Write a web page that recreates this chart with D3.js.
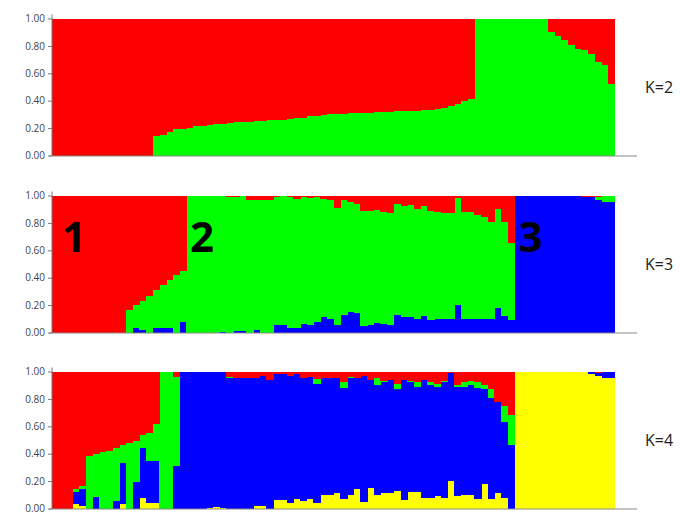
<!DOCTYPE html>
<html>
<head>
<meta charset="utf-8">
<script src="https://cdn.jsdelivr.net/npm/d3@7"></script>
<style>
  body { margin: 0; background: #fff; }
  svg text { font-family: "Open Sans", "Liberation Sans", sans-serif; }
</style>
</head>
<body>
<svg id="chart" width="682" height="514"></svg>
<script>
// membership coefficients per individual (84 individuals, same order in each panel)
const individuals = d3.range(84);
const yTicks = [0, 0.2, 0.4, 0.6, 0.8, 1];
const panelLabels = ["K=2", "K=3", "K=4"];
const groupLabels = ["1", "2", "3"];

// K=2
const k2Green = [0,0,0,0,0,0,0,0,0,0,0,0,0,0,0,
  0.14,0.15,0.17,0.19,0.195,0.20,0.215,0.218,0.22,0.23,0.23,0.235,0.243,0.245,0.248,0.255,0.255,0.258,0.262,0.262,
  0.265,0.272,0.277,0.285,0.29,0.292,0.30,0.303,0.305,0.307,0.308,0.31,0.313,0.315,0.317,0.32,0.322,0.325,0.326,0.328,
  0.33,0.333,0.338,0.345,0.36,0.376,0.395,0.41,
  1,1,1,1,1,1,1,0.995,0.995,0.995,0.995,
  0.90,0.87,0.84,0.81,0.78,0.77,0.74,0.68,0.66,0.52];
const k2Red = [1,1,1,1,1,1,1,1,1,1,1,1,1,1,1,
  0.86,0.85,0.83,0.81,0.805,0.80,0.785,0.782,0.78,0.77,0.77,0.765,0.757,0.755,0.752,0.745,0.745,0.742,0.738,0.738,
  0.735,0.728,0.723,0.715,0.71,0.708,0.70,0.697,0.695,0.693,0.692,0.69,0.687,0.685,0.683,0.68,0.678,0.675,0.674,0.672,
  0.67,0.667,0.662,0.655,0.64,0.624,0.605,0.59,
  0,0,0,0,0,0,0,0.005,0.005,0.005,0.005,
  0.10,0.13,0.16,0.19,0.22,0.23,0.26,0.32,0.34,0.48];

// K=3
const k3Blue = [0,0,0,0,0,0,0,0,0,0,0,
  0,0.03,0.017,0,0.036,0.036,0.036,0,0.078,
  0,0,0,0,0,0.005,0,0.012,0.012,0,0.02,0,0,0.053,0.053,0.036,0.036,0.065,0.053,0.078,0.115,
  0.10,0.053,0.126,0.15,0.14,0.046,0.053,0.07,0.065,0.053,0.126,0.114,0.11,0.10,0.12,0.09,0.095,0.10,0.10,0.20,
  0.095,0.10,0.10,0.10,0.10,0.18,0.12,0.09,
  1,1,1,1,1,1,1,1,0.995,1,0.99,0.99,0.97,0.95,0.955];
const k3Green = [0,0,0,0,0,0,0,0,0,0,0,
  0.163,0.17,0.213,0.27,0.274,0.309,0.344,0.42,0.372,
  1,1,0.995,0.995,0.995,0.99,0.988,0.976,0.983,0.97,0.944,0.964,0.97,0.937,0.942,0.954,0.94,0.925,0.927,0.912,0.861,
  0.87,0.857,0.838,0.80,0.795,0.844,0.837,0.825,0.815,0.817,0.814,0.806,0.82,0.80,0.805,0.80,0.785,0.77,0.77,0.783,
  0.785,0.78,0.76,0.74,0.71,0.72,0.69,0.56,
  0,0,0,0,0,0,0,0,0,0,0,0,0.02,0.045,0.045];
const k3Red = [1,1,1,1,1,1,1,1,1,1,1,
  0.837,0.80,0.77,0.73,0.69,0.655,0.62,0.58,0.55,
  0,0,0.005,0.005,0.005,0.005,0.012,0.012,0.005,0.03,0.036,0.036,0.03,0.01,0.005,0.01,0.024,0.01,0.02,0.01,0.024,
  0.03,0.09,0.036,0.05,0.065,0.11,0.11,0.105,0.12,0.13,0.06,0.08,0.07,0.10,0.075,0.11,0.12,0.13,0.13,0.017,
  0.12,0.12,0.14,0.16,0.19,0.10,0.19,0.35,
  0,0,0,0,0,0,0,0,0.005,0,0.01,0.01,0.01,0.005,0];

// K=4
const k4Yellow = [0,0,0,0.03,0.02,0,0,0,0,0,0.03,0,0,0.08,0.037,0.04,0,0,0,
  0,0,0,0,0.005,0.012,0.005,0,0,0,0,0.017,0.017,0,0.06,0.06,0.037,0.066,0.054,0.07,0.04,0.10,0.10,
  0.11,0.07,0.10,0.14,0.05,0.15,0.10,0.11,0.11,0.13,0.06,0.12,0.12,0.08,0.08,0.09,0.08,0.20,0.09,0.10,0.10,
  0.07,0.18,0.07,0.11,0.08,0,
  1,1,1,1,1,1,1,1,0.995,0.995,0.995,0.98,0.965,0.95,0.95];
const k4Blue = [0,0,0,0.09,0.12,0,0.085,0,0,0.054,0.30,0,0.19,0.36,0.313,0.31,0,0,0.31,
  1,1,1,0.993,0.988,0.981,0.988,0.955,0.956,0.956,0.956,0.939,0.953,0.94,0.92,0.92,0.933,0.914,0.902,0.893,0.867,0.856,0.856,
  0.84,0.81,0.85,0.81,0.92,0.79,0.80,0.81,0.83,0.74,0.88,0.80,0.77,0.86,0.82,0.80,0.84,0.79,0.80,0.79,0.80,
  0.81,0.69,0.74,0.67,0.55,0.46,
  0,0,0,0,0,0,0,0,0,0,0,0.02,0.025,0.05,0.05];
const k4Green = [0,0,0,0.02,0.025,0.383,0.31,0.41,0.42,0.386,0.13,0.48,0.30,0.10,0.20,0.27,1,1,0.65,
  0,0,0,0,0,0,0,0.005,0,0,0,0,0,0,0,0,0,0,0,0,0.037,0,0,
  0,0.04,0.01,0,0,0,0.05,0.01,0,0.04,0,0.01,0.03,0,0.02,0.02,0.01,0,0.01,0.03,0.03,
  0.04,0.03,0.06,0,0.12,0.22,
  0,0,0,0,0,0,0,0,0,0,0,0,0,0,0];
const k4Red = [1,1,1,0.86,0.835,0.617,0.605,0.59,0.58,0.56,0.54,0.52,0.51,0.46,0.45,0.38,0,0,0.04,
  0,0,0,0.007,0.007,0.007,0.007,0.04,0.044,0.044,0.044,0.044,0.03,0.06,0.02,0.02,0.03,0.02,0.044,0.037,0.056,0.044,0.044,
  0.05,0.08,0.04,0.05,0.03,0.06,0.05,0.07,0.06,0.09,0.06,0.07,0.08,0.06,0.08,0.09,0.07,0.01,0.10,0.08,0.07,
  0.08,0.10,0.13,0.22,0.25,0.32,
  0,0,0,0,0,0,0,0,0.005,0.005,0.005,0,0.01,0,0];

const colors = { red: "#ff0000", green: "#00ff00", blue: "#0000ff", yellow: "#ffff00" };

// bottom-to-top stacking order per panel
const panels = [
  { label: panelLabels[0], keys: ["green", "red"], series: { green: k2Green, red: k2Red } },
  { label: panelLabels[1], keys: ["blue", "green", "red"], series: { blue: k3Blue, green: k3Green, red: k3Red } },
  { label: panelLabels[2], keys: ["yellow", "blue", "green", "red"], series: { yellow: k4Yellow, blue: k4Blue, green: k4Green, red: k4Red } }
];

const svg = d3.select("#chart");
const left = 52, right = 615;
const panelTops = [18.5, 195.5, 371.5];
const panelH = 137;

const x = d3.scaleBand().domain(individuals).range([left, right]).padding(0);

panels.forEach((p, pi) => {
  const top = panelTops[pi];
  const y = d3.scaleLinear().domain([0, 1]).range([top + panelH, top]);

  const rows = individuals.map(i => {
    const r = { i };
    p.keys.forEach(k => { r[k] = p.series[k][i]; });
    return r;
  });
  const stacked = d3.stack().keys(p.keys)(rows);

  const g = svg.append("g");
  g.selectAll("g.layer")
    .data(stacked)
    .enter().append("g")
    .attr("class", "layer")
    .attr("fill", d => colors[d.key])
    .selectAll("rect")
    .data(d => d)
    .enter().append("rect")
    .attr("x", d => x(d.data.i))
    .attr("width", d => x.bandwidth() + (d.data.i < individuals.length - 1 ? 0.6 : 0))
    .attr("y", d => y(Math.min(d[1], 1)))
    .attr("height", d => Math.max(0, y(d[0]) - y(Math.min(d[1], 1))))
    .attr("shape-rendering", "crispEdges");

  // y axis
  const axis = g.append("g")
    .attr("transform", `translate(${left},0)`)
    .call(d3.axisLeft(y).tickValues(yTicks).tickFormat(d3.format(".2f")).tickSize(4).tickPadding(3));
  axis.select(".domain").remove();
  axis.selectAll(".tick line").attr("stroke", "#777");
  axis.selectAll(".tick text").attr("fill", "#444").style("font-size", "10px");
  g.append("line")
    .attr("x1", left).attr("x2", left)
    .attr("y1", top - 4).attr("y2", top + panelH)
    .attr("stroke", "#777");

  // baseline
  g.append("line")
    .attr("x1", left - 3).attr("x2", 637)
    .attr("y1", top + panelH + 0.5).attr("y2", top + panelH + 0.5)
    .attr("stroke", "#888").attr("stroke-width", 1.2);

  g.append("text")
    .attr("x", 645)
    .attr("y", top + panelH / 2 + 6)
    .attr("fill", "#222")
    .style("font-size", "16px")
    .text(p.label);
});

// group numbers on the K=3 panel
const groupStart = [0, 20, 69];
svg.append("g").selectAll("text")
  .data(groupLabels)
  .enter().append("text")
  .attr("x", (d, i) => x(groupStart[i]) + (i === 0 ? 10 : 4))
  .attr("y", 252)
  .attr("fill", "#000")
  .style("font-size", "42px")
  .style("font-weight", "bold")
  .text(d => d);
</script>
</body>
</html>
